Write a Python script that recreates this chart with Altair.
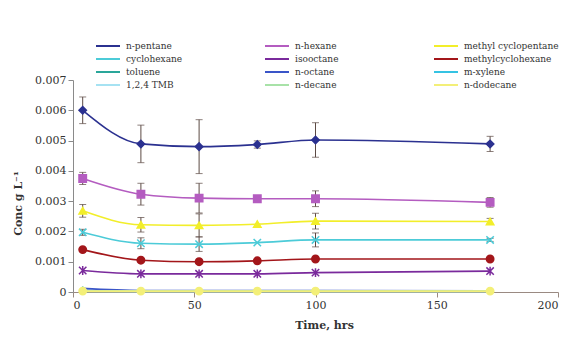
import altair as alt
import pandas as pd

times = [4, 28, 52, 76, 100, 172]

series_names = ["n-pentane", "n-hexane", "methyl cyclopentane", "cyclohexane",
                "isooctane", "methylcyclohexane", "toluene", "n-octane",
                "m-xylene", "1,2,4 TMB", "n-decane", "n-dodecane"]
series_colors = ["#2b3190", "#b45cc0", "#f2ee2a", "#4ccbd8",
                 "#7a2a9c", "#a3161a", "#2aa69a", "#3a55c8",
                 "#35c3e3", "#a6e2f2", "#a8e2a8", "#f3ef78"]

values = {
    "n-pentane":           [0.00600, 0.00489, 0.00480, 0.00487, 0.00502, 0.00489],
    "n-hexane":            [0.00375, 0.00323, 0.00310, 0.00308, 0.00308, 0.00296],
    "methyl cyclopentane": [0.00268, 0.00222, 0.00220, 0.00224, 0.00234, 0.00233],
    "cyclohexane":         [0.00197, 0.00161, 0.00158, 0.00163, 0.00172, 0.00172],
    "isooctane":           [0.00071, 0.00060, 0.00060, 0.00060, 0.00064, 0.00069],
    "methylcyclohexane":   [0.00140, 0.00105, 0.00100, 0.00103, 0.00109, 0.00109],
    "toluene":             [0.00006, 0.00004, 0.00004, 0.00004, 0.00004, 0.00004],
    "n-octane":            [0.00012, 0.00005, 0.00005, 0.00005, 0.00005, 0.00004],
    "m-xylene":            [0.00004, 0.00003, 0.00003, 0.00003, 0.00003, 0.00003],
    "1,2,4 TMB":           [0.00003, 0.00002, 0.00002, 0.00002, 0.00002, 0.00002],
    "n-decane":            [0.00002, 0.00002, 0.00002, 0.00002, 0.00002, 0.00002],
    "n-dodecane":          [0.00003, 0.00003, 0.00003, 0.00003, 0.00003, 0.00003],
}

errors = {
    "n-pentane":           [0.00044, 0.00062, 0.00089, 0.00012, 0.00057, 0.00025],
    "n-hexane":            [0.00020, 0.00036, 0.00049, 0.00000, 0.00026, 0.00016],
    "methyl cyclopentane": [0.00021, 0.00024, 0.00038, 0.00000, 0.00026, 0.00010],
    "cyclohexane":         [0.00010, 0.00018, 0.00024, 0.00000, 0.00023, 0.00005],
}

marker_series = ["n-pentane", "n-hexane", "methyl cyclopentane", "cyclohexane",
                 "isooctane", "methylcyclohexane", "toluene", "n-dodecane"]
marker_shapes = ["diamond", "square", "triangle-up",
                 "M-1,-1L1,1M-1,1L1,-1",
                 "M-1,-1L1,1M-1,1L1,-1M0,-1.2L0,1.2",
                 "circle", "M-1,0L1,0M0,-1L0,1", "circle"]

y_ticks = [0, 0.001, 0.002, 0.003, 0.004, 0.005, 0.006, 0.007]
x_ticks = [0, 50, 100, 150, 200]

# legend is laid out column by column: reorder so rows read as in the reference
n_cols, n_rows = 3, 4
legend_order = [series_names[r * n_cols + c] for c in range(n_cols) for r in range(n_rows)]
legend_colors = [series_colors[series_names.index(s)] for s in legend_order]

rows = []
for s in series_names:
    errs = errors.get(s, [0] * len(times))
    for t, v, e in zip(times, values[s], errs):
        rows.append({"series": s, "time": t, "conc": v, "err": e,
                     "lo": v - e, "hi": v + e})
df = pd.DataFrame(rows)

font = "DejaVu Serif"
color_scale = alt.Scale(domain=legend_order, range=legend_colors)

x_axis = alt.Axis(values=x_ticks, tickCount=20, title="Time, hrs",
                  titleX=251, titleY=33, titleBaseline="middle",
                  titleFontWeight="bold")
y_axis = alt.Axis(values=y_ticks, tickCount=20, labelOverlap=False,
                  labelExpr="datum.value == 0 ? '0' : format(datum.value, '.3f')",
                  title="Conc g L\u207b\u00b9", titleX=-50, titleY=123,
                  titleFontWeight="bold")
x_scale = alt.Scale(domain=[0, 200])
y_scale = alt.Scale(domain=[0, 0.007], nice=False)


def X(field):
    return alt.X(field, scale=x_scale, axis=x_axis)


def Y(field):
    return alt.Y(field, scale=y_scale, axis=y_axis)


base = alt.Chart(df)

lines = base.mark_line(strokeWidth=1.6, interpolate="monotone").encode(
    x=X("time:Q"), y=Y("conc:Q"),
    color=alt.Color("series:N", scale=color_scale, sort=legend_order,
                    legend=alt.Legend(title=None, orient="none", legendX=28, legendY=-41,
                                      columns=3, symbolType="M-2,0L2,0", symbolSize=144,
                                      symbolStrokeWidth=2, gridAlign="all",
                                      columnPadding=40, rowPadding=1,
                                      labelFont=font, labelFontSize=9,
                                      labelColor="#333333", labelOffset=11)),
    detail="series:N",
)

err_df_filter = alt.datum.err > 0
err_color = "#5c4a44"
err_rule = base.transform_filter(err_df_filter).mark_rule(color=err_color, strokeWidth=1).encode(
    x=X("time:Q"), y=Y("lo:Q"), y2="hi:Q")
err_top = base.transform_filter(err_df_filter).mark_tick(
    color=err_color, orient="horizontal", size=7, thickness=1).encode(x=X("time:Q"), y=Y("hi:Q"))
err_bot = base.transform_filter(err_df_filter).mark_tick(
    color=err_color, orient="horizontal", size=7, thickness=1).encode(x=X("time:Q"), y=Y("lo:Q"))

points = base.transform_filter(
    alt.FieldOneOfPredicate(field="series", oneOf=marker_series)
).mark_point(filled=True, size=55, strokeWidth=1.5, opacity=1).encode(
    x=X("time:Q"), y=Y("conc:Q"),
    fill=alt.Fill("series:N", scale=color_scale, legend=None),
    stroke=alt.Stroke("series:N", scale=color_scale, legend=None),
    shape=alt.Shape("series:N", scale=alt.Scale(domain=marker_series, range=marker_shapes),
                    legend=None),
)

chart = alt.layer(err_rule, err_top, err_bot, lines, points).properties(
    width=485, height=212,
    autosize=alt.AutoSizeParams(type="none"),
    padding={"left": 65, "top": 72, "right": 6, "bottom": 39},
    background="white",
).configure_axis(
    grid=False, labelFont=font, titleFont=font, labelFontSize=11, titleFontSize=11,
    labelColor="#333333", titleColor="#333333", domainColor="#8a8a8a",
    tickColor="#8a8a8a", tickSize=5,
).configure_axisX(domainColor="#9a8a82", tickColor="#9a8a82").configure_view(stroke=None)

chart.save("out.html", embed_options={"renderer": "svg", "actions": False})
